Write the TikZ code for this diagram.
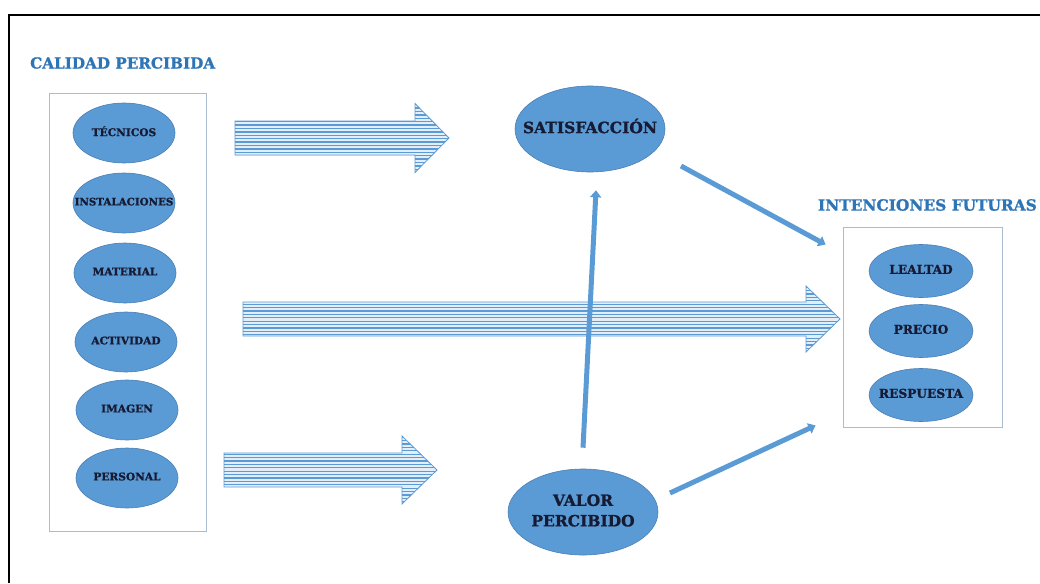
\documentclass[tikz,border=0pt]{standalone}
\usepackage{fontspec}
\setmainfont{DejaVu Serif}[BoldFeatures={FakeBold=1.2}]
\usetikzlibrary{shapes.geometric,arrows.meta,calc}

\definecolor{titleblue}{HTML}{2E75B6}
\definecolor{ovalfill}{HTML}{5B9BD5}
\definecolor{ovaledge}{HTML}{4A7FB5}
\definecolor{inktext}{HTML}{161A33}
\definecolor{boxedge}{HTML}{A9BCD0}
\definecolor{stripebg}{HTML}{E3EEF9}
\definecolor{stripeline}{HTML}{5B9BD5}

% zero-width label so the oval keeps its own size
\newcommand\ovaltext[1]{\makebox[0pt][c]{\begin{tabular}{@{}c@{}}#1\end{tabular}}}

\tikzset{
  oval/.style={ellipse, fill=ovalfill, draw=ovaledge, line width=0.6pt,
    inner sep=0pt, text=inktext, font=\bfseries\fontsize{10.6}{12}\selectfont,
    minimum width=102pt, minimum height=60pt},
  bigoval/.style={oval, minimum width=150pt, minimum height=86pt,
    font=\bfseries\fontsize{15.5}{20.5}\selectfont},
  smalloval/.style={oval, minimum width=104pt, minimum height=53pt,
    font=\bfseries\fontsize{12.2}{14}\selectfont},
  groupbox/.style={draw=boxedge, line width=0.9pt, fill=white, inner sep=0pt},
  grouptitle/.style={text=titleblue, inner sep=0pt},
  link/.style={draw=ovalfill, line width=5pt,
    -{Triangle[length=7pt,width=11pt]}},
  arrowedge/.style={draw=stripeline, line width=0.8pt, line join=miter},
  stripe/.style={draw=stripeline, line width=1.25pt},
}

% striped block arrow: tail x, head base x, tip x, centre y, half shaft, half head
\newcommand\stripedarrow[6]{%
  \begin{scope}
    \clip (#1,{#4-#5}) -- (#2,{#4-#5}) -- (#2,{#4-#6}) -- (#3,#4)
      -- (#2,{#4+#6}) -- (#2,{#4+#5}) -- (#1,{#4+#5}) -- cycle;
    \fill[stripebg] (#1,{#4-#6}) rectangle (#3,{#4+#6});
    \foreach \k in {0,...,22}{
      \pgfmathsetmacro\yy{#4-#6+1.2+\k*3.4}
      \draw[stripe] (#1,\yy) -- (#3,\yy);
    }
  \end{scope}
  \draw[arrowedge] (#1,{#4-#5}) -- (#2,{#4-#5}) -- (#2,{#4-#6}) -- (#3,#4)
    -- (#2,{#4+#6}) -- (#2,{#4+#5}) -- (#1,{#4+#5}) -- cycle;
}

\begin{document}
\begin{tikzpicture}[x=1pt,y=-1pt]
  \useasboundingbox (0,0) rectangle (1040,583);

  % page frame (top and left edges)
  \draw[line width=2pt] (9,583) -- (9,15) -- (1040,15);

  % perceived quality group
  \node[grouptitle, anchor=west, font=\bfseries\fontsize{15.2}{17}\selectfont] (calt) at (30,63) {CALIDAD PERCIBIDA};
  \node[groupbox, minimum width=157pt, minimum height=438pt] (cal) at (127.5,312) {};
  \node[oval] (tec) at (124,133) {\ovaltext{TÉCNICOS}};
  \node[oval, font=\bfseries\fontsize{10.3}{12}\selectfont] (ins) at (124,203) {\ovaltext{INSTALACIONES}};
  \node[oval] (mat) at (125,273) {\ovaltext{MATERIAL}};
  \node[oval] (act) at (126,342) {\ovaltext{ACTIVIDAD}};
  \node[oval] (img) at (127,410) {\ovaltext{IMAGEN}};
  \node[oval] (per) at (127,478) {\ovaltext{PERSONAL}};

  % striped block arrows
  \stripedarrow{235}{415}{449}{138}{17}{34.5}
  \stripedarrow{243}{806}{840}{319}{17}{33}
  \stripedarrow{224}{402}{437}{470}{17}{34}

  % future intentions group
  \node[grouptitle, anchor=east, font=\bfseries\fontsize{15.4}{17}\selectfont] (fut) at (1037,205) {INTENCIONES FUTURAS};
  \node[groupbox, minimum width=159pt, minimum height=200pt] (intbox) at (922.5,327) {};
  \node[smalloval] (leal) at (921,271) {\ovaltext{LEALTAD}};
  \node[smalloval] (prec) at (921,331) {\ovaltext{PRECIO}};
  \node[smalloval] (resp) at (921,395) {\ovaltext{RESPUESTA}};

  % central constructs
  \node[bigoval] (sat) at (590,129) {\ovaltext{SATISFACCIÓN}};
  \node[bigoval] (val) at (583,512) {\ovaltext{VALOR\\PERCIBIDO}};

  % connectors
  \draw[link] ([yshift=21pt]val.north) -- ([xshift=6pt,yshift=-18pt]sat.south);
  \draw[link] ($(sat.center)+(91,37)$) -- ($(intbox.north west)+(-17,18)$);
  \draw[link] ($(val.center)+(87,-19)$) -- ($(intbox.south west)+(-27,-2)$);
\end{tikzpicture}
\end{document}
